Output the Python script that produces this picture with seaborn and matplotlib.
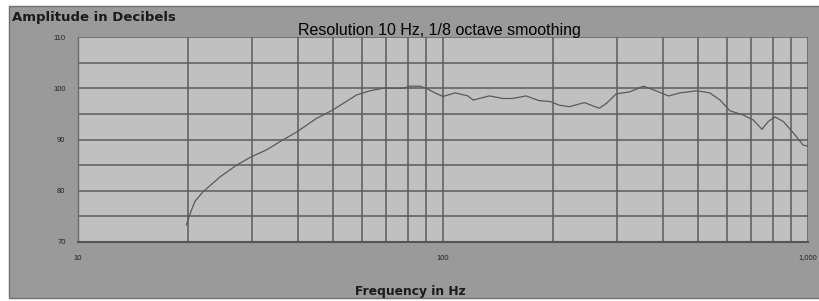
import numpy as np
import pandas as pd
import matplotlib
matplotlib.use('Agg')
import matplotlib.pyplot as plt
import seaborn as sns
from matplotlib.patches import Rectangle
from matplotlib.ticker import FixedLocator, NullFormatter

# values
freq_hz = [19.8, 20.3, 20.9, 22.0, 24.5, 27.2, 29.6, 32.9, 35.8, 39.8,
           45.0, 50.0, 58.0, 63.0, 68.6, 78.0, 81.0, 86.5, 90.0, 95.0,
           100.0, 108.0, 117.0, 121.0, 134.0, 146.0, 155.0, 169.0, 183.0, 197.0,
           208.0, 222.0, 244.0, 268.0, 281.0, 298.0, 325.0, 354.0, 377.0, 415.0,
           446.0, 496.0, 538.0, 574.0, 611.0, 663.0, 708.0, 748.0, 778.0, 812.0,
           856.0, 914.0, 970.0, 1000.0]
amplitude_db = [73.3, 75.6, 77.9, 79.8, 82.7, 85.0, 86.5, 88.0, 89.6, 91.5,
                94.1, 95.8, 98.7, 99.5, 100.0, 100.0, 100.4, 100.4, 100.0, 99.1,
                98.4, 99.1, 98.5, 97.7, 98.5, 98.0, 98.0, 98.5, 97.6, 97.4,
                96.7, 96.4, 97.2, 96.1, 97.1, 98.9, 99.3, 100.4, 99.7, 98.5,
                99.1, 99.5, 99.1, 97.7, 95.6, 94.8, 93.8, 92.0, 93.5, 94.4,
                93.5, 91.2, 88.9, 88.7]

y_ticks = [70, 80, 90, 100, 110]
x_ticks = [10, 100, 1000]
x_tick_labels = ['10', '100', '1,000']

df = pd.DataFrame({'Frequency': freq_hz, 'Amplitude': amplitude_db})

sns.set_style('white')
plt.rcParams['font.family'] = ['Liberation Sans', 'DejaVu Sans']

fig = plt.figure(figsize=(8.2, 3.01), dpi=100, facecolor='white')
# grey chart area with frame, drawn behind the axes
fig.patches.append(Rectangle((9 / 820, 3 / 301), 1 - 9 / 820 + 0.01, 1 - 9 / 301,
                             transform=fig.transFigure, facecolor='#9a9a9a',
                             edgecolor='#6e6e6e', linewidth=1.0, zorder=-10))

ax = fig.add_axes([78 / 820, 1 - 242 / 301, (808 - 78) / 820, (242 - 37) / 301])
ax.set_zorder(2)
ax.set_facecolor('#c0c0c0')

sns.lineplot(data=df, x='Frequency', y='Amplitude', ax=ax, color='#5a5a5a',
             linewidth=0.9, zorder=3)

ax.set_xscale('log')
ax.set_xlim(10, 1000)
ax.set_ylim(70, 110)

minor_x = [f * d for d in (10, 100) for f in range(2, 10)]
ax.xaxis.set_major_locator(FixedLocator(x_ticks))
ax.xaxis.set_minor_locator(FixedLocator(minor_x))
ax.xaxis.set_minor_formatter(NullFormatter())
ax.set_xticklabels(x_tick_labels)
ax.yaxis.set_major_locator(FixedLocator(y_ticks))
ax.yaxis.set_minor_locator(FixedLocator([75, 85, 95, 105]))

ax.grid(which='both', axis='both', color='#5c5c5c', linewidth=1.1)
ax.set_axisbelow(True)
ax.tick_params(axis='y', which='major', length=4, width=0.8, color='#444444',
               labelsize=5.5, pad=5, labelcolor='#222222')
ax.tick_params(axis='y', which='minor', length=0)
ax.tick_params(axis='x', which='both', length=0, labelsize=5.5, pad=9,
               labelcolor='#222222')

for side in ('top', 'right'):
    ax.spines[side].set_visible(False)
ax.spines['left'].set_color('#6a6a6a')
ax.spines['left'].set_linewidth(1.0)
ax.spines['bottom'].set_color('#555555')
ax.spines['bottom'].set_linewidth(1.5)
ax.set_xlabel('')
ax.set_ylabel('')

fig.text(12 / 820, 1 - 18 / 301, 'Amplitude in Decibels', fontsize=9.5,
         fontweight='bold', family=['DejaVu Sans'], color='#1a1a1a',
         ha='left', va='center')
fig.text(439 / 820, 1 - 30 / 301, 'Resolution 10 Hz, 1/8 octave smoothing',
         fontsize=11.5, color='black', ha='center', va='center', zorder=5)
fig.text(410 / 820, 1 - 292 / 301, 'Frequency in Hz', fontsize=8.8,
         fontweight='bold', family=['DejaVu Sans'], color='#1a1a1a',
         ha='center', va='center')

fig.savefig('out.png', dpi=100, facecolor=fig.get_facecolor())
